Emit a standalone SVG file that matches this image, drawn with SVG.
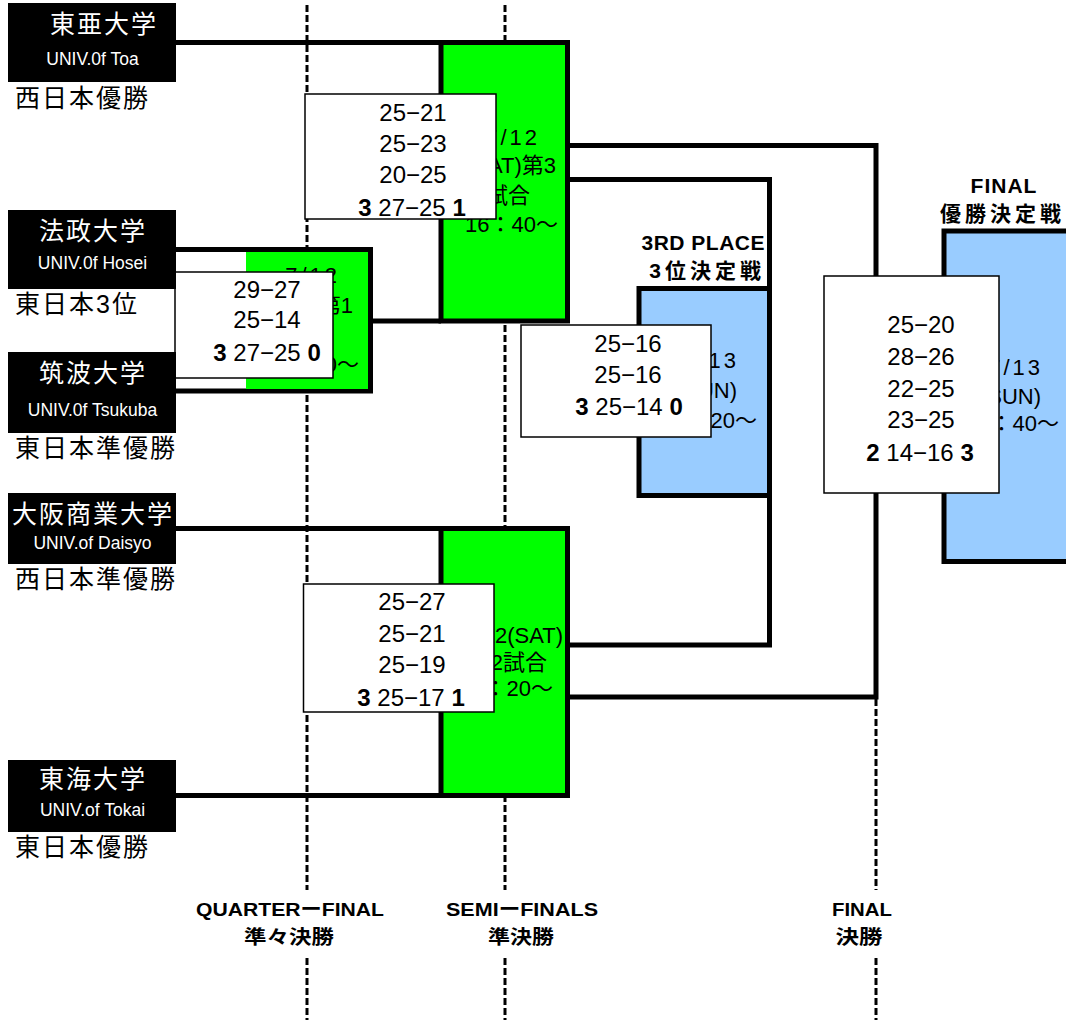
<svg xmlns="http://www.w3.org/2000/svg" width="1066" height="1020" viewBox="0 0 1066 1020">
<style>
text{font-family:'Liberation Sans','Noto Sans CJK JP',sans-serif}
.team{fill:#000}
.tn{fill:#fff;font-size:25px;letter-spacing:2px;text-anchor:middle}
.tu{fill:#fff;font-size:17.5px;text-anchor:middle}
.sub{fill:#000;font-size:25px;letter-spacing:2px}
.line{fill:none;stroke:#000;stroke-width:5}
.guide{fill:none;stroke:#000;stroke-width:3;stroke-dasharray:7 3}
.green{fill:#00ff00}
.blue{fill:#99ccff}
.mbox{stroke:#000;stroke-width:5}
.sch{font-size:22px;fill:#000;text-anchor:end}
.dt{letter-spacing:3px}
.score{fill:#fff;stroke:#000;stroke-width:1.5}
.sc{font-size:24px;fill:#000;text-anchor:middle}
.b{font-weight:bold}
.hd{font-size:21px;font-weight:bold;fill:#000}
.lab{font-size:19px;font-weight:bold;fill:#000;text-anchor:middle}
</style>
<rect width="1066" height="1020" fill="#fff"/>
<g id="guides">
<path class="guide" d="M307 5V890M307 958V1020M505 5V890M505 958V1020M876 699V890M876 958V1020"/>
</g>
<g id="connectors">
<path class="line" d="M176 42.5H441"/>
<path class="line" d="M176 249.5H370.5V391H176"/>
<path class="line" d="M370.5 321H441"/>
<path class="line" d="M176 528.5H441"/>
<path class="line" d="M176 795.5H441"/>
<path class="line" d="M567.5 145.5H876V697H567.5"/>
<path class="line" d="M567.5 179.5H769.5V645H567.5"/>
</g>
<g id="qf-match">
<rect class="green" x="246" y="252" width="122" height="137"/>
<text class="sch dt" x="340" y="283">7/12</text>
<text class="sch" x="353" y="313">(SAT)第1</text>
<text class="sch" x="331" y="342">試合</text>
<text class="sch" x="359" y="372">10：00～</text>
</g>
<g id="semi1-match">
<rect class="green mbox" x="441" y="42.5" width="126.5" height="278.5"/>
<text class="sch dt" x="540" y="145">7/12</text>
<text class="sch" x="556" y="173">(SAT)第3</text>
<text class="sch" x="530" y="203">試合</text>
<text class="sch" x="558" y="232">16：40～</text>
</g>
<g id="semi2-match">
<rect class="green mbox" x="441" y="528.5" width="126.5" height="267"/>
<text class="sch" x="563" y="643">7/12(SAT)</text>
<text class="sch" x="547" y="670">第2試合</text>
<text class="sch" x="553" y="696">13：20～</text>
</g>
<g id="third-match">
<text class="hd" x="765" y="249.5" text-anchor="end" letter-spacing="0.5">3RD PLACE</text>
<text class="hd" x="765" y="278" text-anchor="end" letter-spacing="4">3位決定戦</text>
<rect class="blue mbox" x="639" y="288.5" width="130.5" height="207"/>
<text class="sch dt" x="739" y="368">7/13</text>
<text class="sch" x="737" y="398">(SUN)</text>
<text class="sch" x="757" y="428">10：20～</text>
</g>
<g id="final-match">
<text class="hd" x="1004" y="192.5" text-anchor="middle" letter-spacing="1">FINAL</text>
<text class="hd" x="940" y="221" letter-spacing="4">優勝決定戦</text>
<rect class="blue mbox" x="944" y="231" width="140" height="330.5"/>
<text class="sch dt" x="1043" y="375">7/13</text>
<text class="sch" x="1041" y="404">(SUN)</text>
<text class="sch" x="1059" y="431">13：40～</text>
</g>
<g id="qf-score">
<rect class="score" x="175" y="272" width="158" height="106"/>
<text class="sc" x="267" y="298">29−27</text>
<text class="sc" x="267" y="328">25−14</text>
<text class="sc" x="267" y="361"><tspan class="b">3</tspan> 27−25 <tspan class="b">0</tspan></text>
</g>
<g id="semi1-score">
<rect class="score" x="305" y="94" width="191" height="125"/>
<text class="sc" x="413" y="121">25−21</text>
<text class="sc" x="413" y="152">25−23</text>
<text class="sc" x="413" y="183">20−25</text>
<text class="sc" x="412" y="216"><tspan class="b">3</tspan> 27−25 <tspan class="b">1</tspan></text>
</g>
<g id="semi2-score">
<rect class="score" x="303.5" y="584" width="190.5" height="128"/>
<text class="sc" x="412" y="610">25−27</text>
<text class="sc" x="412" y="642">25−21</text>
<text class="sc" x="412" y="673">25−19</text>
<text class="sc" x="411" y="706"><tspan class="b">3</tspan> 25−17 <tspan class="b">1</tspan></text>
</g>
<g id="third-score">
<rect class="score" x="521" y="325" width="190" height="112"/>
<text class="sc" x="628" y="352">25−16</text>
<text class="sc" x="628" y="383">25−16</text>
<text class="sc" x="629" y="415"><tspan class="b">3</tspan> 25−14 <tspan class="b">0</tspan></text>
</g>
<g id="final-score">
<rect class="score" x="824" y="276" width="175" height="217"/>
<text class="sc" x="921" y="333">25−20</text>
<text class="sc" x="921" y="365">28−26</text>
<text class="sc" x="921" y="397">22−25</text>
<text class="sc" x="921" y="428">23−25</text>
<text class="sc" x="920" y="461"><tspan class="b">2</tspan> 14−16 <tspan class="b">3</tspan></text>
</g>
<g id="team-toa">
<rect class="team" x="8" y="3" width="168" height="79"/>
<text class="tn" x="104" y="33">東亜大学</text>
<text class="tu" x="92.5" y="65">UNIV.0f Toa</text>
<text class="sub" x="15" y="106.5">西日本優勝</text>
</g>
<g id="team-hosei">
<rect class="team" x="8" y="210" width="168" height="79"/>
<text class="tn" x="93" y="240">法政大学</text>
<text class="tu" x="92.5" y="269">UNIV.0f Hosei</text>
<text class="sub" x="15" y="312.5">東日本3位</text>
</g>
<g id="team-tsukuba">
<rect class="team" x="8" y="352" width="168" height="81"/>
<text class="tn" x="93" y="382">筑波大学</text>
<text class="tu" x="92.5" y="416">UNIV.0f Tsukuba</text>
<text class="sub" x="15" y="456.5">東日本準優勝</text>
</g>
<g id="team-daisyo">
<rect class="team" x="8" y="493" width="168" height="71"/>
<text class="tn" x="93" y="522.5">大阪商業大学</text>
<text class="tu" x="92.5" y="549">UNIV.of Daisyo</text>
<text class="sub" x="15" y="587.5">西日本準優勝</text>
</g>
<g id="team-tokai">
<rect class="team" x="8" y="760" width="168" height="72"/>
<text class="tn" x="93" y="788">東海大学</text>
<text class="tu" x="92.5" y="816">UNIV.of  Tokai</text>
<text class="sub" x="15" y="855.5">東日本優勝</text>
</g>
<g id="round-labels">
<text class="lab" x="290" y="916" textLength="188" lengthAdjust="spacingAndGlyphs">QUARTERーFINAL</text>
<text class="lab" x="289" y="944" textLength="90" lengthAdjust="spacingAndGlyphs">準々決勝</text>
<text class="lab" x="522" y="916" textLength="152" lengthAdjust="spacingAndGlyphs">SEMIーFINALS</text>
<text class="lab" x="521" y="944" textLength="66" lengthAdjust="spacingAndGlyphs">準決勝</text>
<text class="lab" x="862" y="916" textLength="60" lengthAdjust="spacingAndGlyphs">FINAL</text>
<text class="lab" x="859" y="944" textLength="47" lengthAdjust="spacingAndGlyphs">決勝</text>
</g>
</svg>
